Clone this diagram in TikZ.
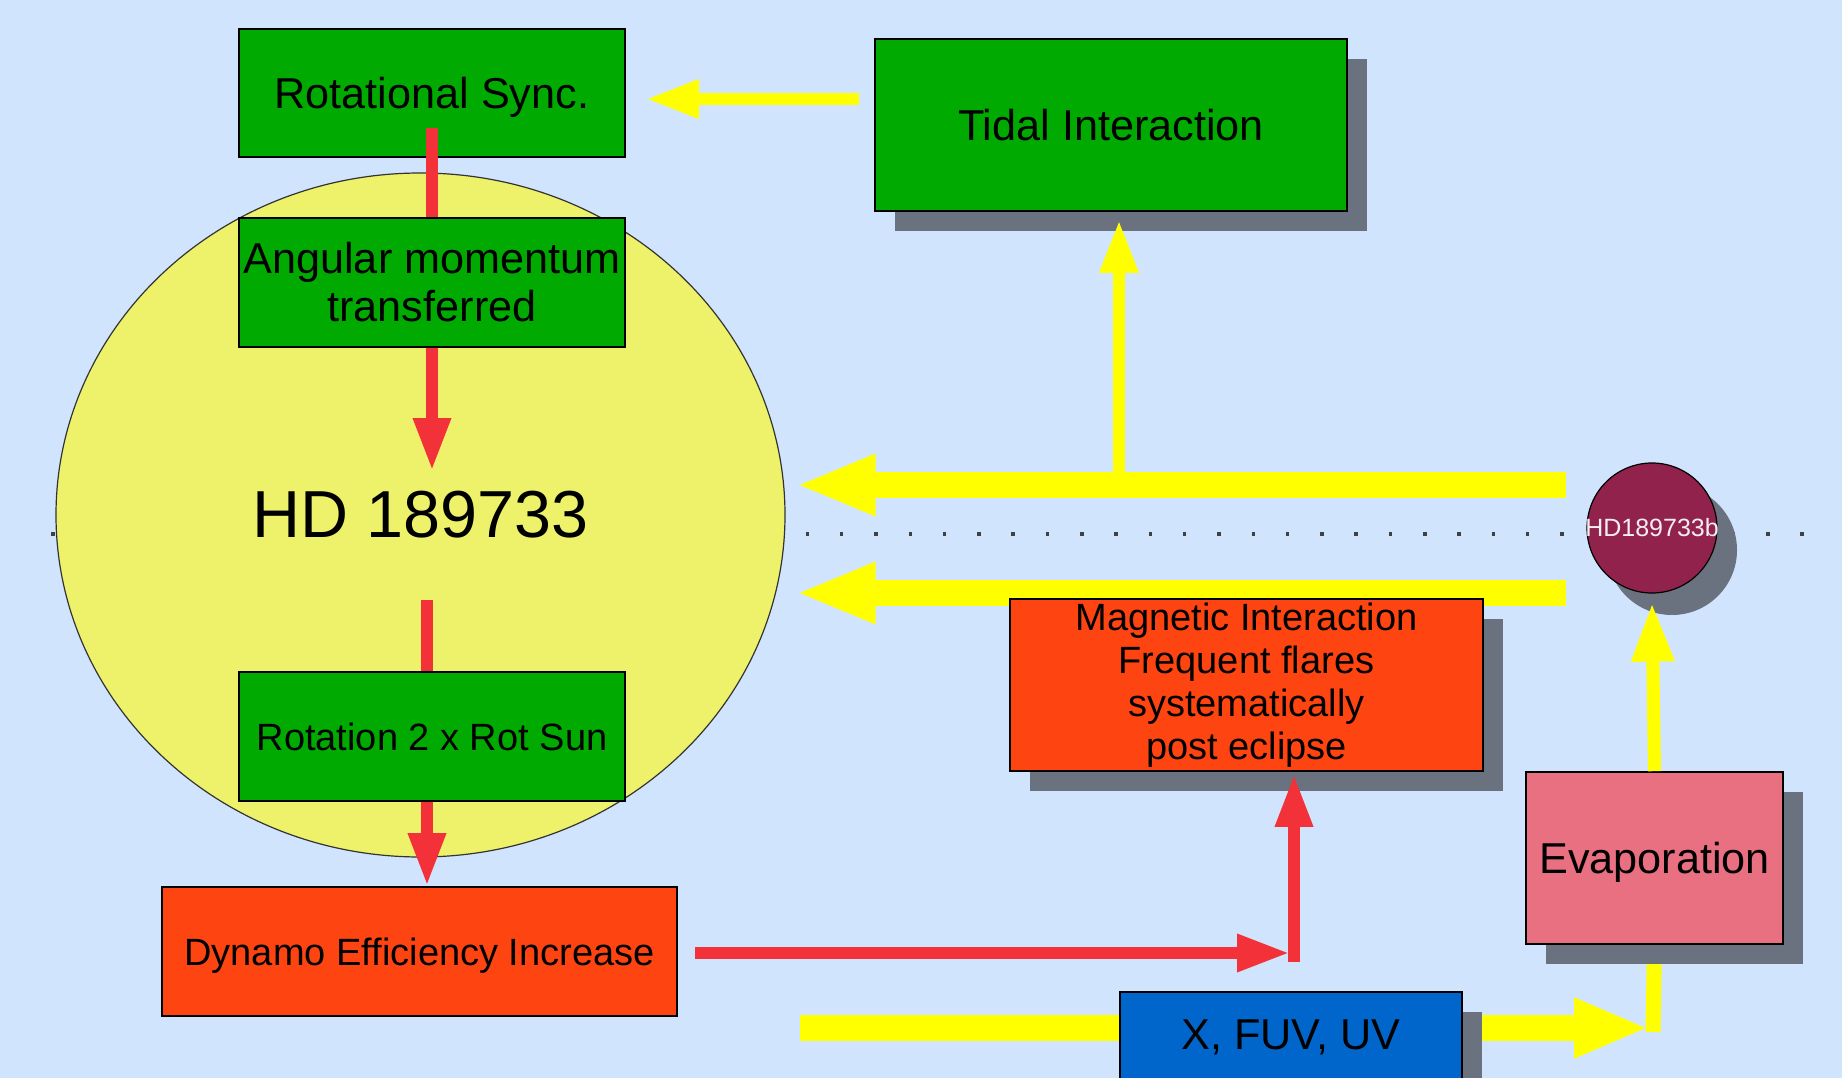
\documentclass[tikz,border=0pt]{standalone}
\usepackage{fontspec}
\setmainfont{Liberation Sans}
\usetikzlibrary{arrows.meta,shapes.geometric,shadows}
\definecolor{bgblue}{RGB}{209,228,253}
\definecolor{boxgreen}{RGB}{0,170,0}
\definecolor{starfill}{RGB}{237,242,106}
\definecolor{flame}{RGB}{254,68,16}
\definecolor{rosy}{RGB}{232,112,128}
\definecolor{uvblue}{RGB}{0,102,204}
\definecolor{planetc}{RGB}{145,34,75}
\definecolor{shadowc}{RGB}{106,114,128}
\definecolor{arrowred}{RGB}{242,50,56}
\definecolor{beam}{RGB}{255,255,0}
\pgfdeclarelayer{back}
\pgfdeclarelayer{under}
\pgfsetlayers{back,under,main}
\begin{document}
\begin{tikzpicture}[x=1pt,y=-1pt,
  box/.style={draw=black, line width=1.6pt, rectangle, inner sep=0pt, align=center, text=black},
  shadowed/.style={drop shadow={shadow xshift=20pt, shadow yshift=-20pt, fill=shadowc, opacity=1}},
  f42/.style={font=\fontsize{43.2}{48}\selectfont},
  f37/.style={font=\fontsize{38}{43}\selectfont},
  redline/.style={draw=arrowred, line width=12pt},
  redarrow/.style={redline, -{Triangle[width=35pt,length=53pt]}},
  ythin/.style={draw=beam, line width=12pt},
  yarrow/.style={ythin, -{Triangle[width=36pt,length=53pt]}},
  ybar/.style={draw=beam, line width=26pt},
  ybig/.style={ybar, -{Triangle[width=56pt,length=80pt]}},
]
\useasboundingbox (0,0) rectangle (1842,1078);
\begin{pgfonlayer}{back}
  \fill[bgblue] (0,0) rectangle (1842,1078);
\end{pgfonlayer}
\clip (0,0) rectangle (1842,1078);

% orbital plane
\coordinate (dl) at (51,534);
\coordinate (dr) at (1812,534);
\begin{pgfonlayer}{under}
  \draw[black!75, line width=3.5pt, dash pattern=on 3.5pt off 30.8pt] (dl) -- (dr);
\end{pgfonlayer}

% the star
\node[ellipse, draw=black!80, line width=1.2pt, fill=starfill, minimum width=729pt,
      minimum height=684pt, inner sep=0pt, font=\fontsize{66.5}{70}\selectfont]
      (star) at (420.5,515) {HD 189733};

% the planet
\node[circle, draw=black, line width=1.2pt, fill=planetc, minimum size=130pt, inner sep=0pt,
      drop shadow={shadow xshift=20pt, shadow yshift=-22pt, fill=shadowc, opacity=1},
      label={[text=white!92!planetc, font=\fontsize{25}{27}\selectfont, inner sep=0pt]center:HD189733b}]
      (pl) at (1652,528) {};

% boxes
\node[box, f42, fill=boxgreen, text depth=0pt, minimum width=386pt, minimum height=128pt] (rs) at (432,93) {Rotational Sync.};
\node[box, f42, fill=boxgreen, minimum width=386pt, minimum height=129pt] (am) at (432,282.5) {Angular momentum\\transferred};
\node[box, f37, fill=boxgreen, minimum width=386pt, minimum height=129pt] (rot) at (432,736.5) {Rotation 2 x Rot Sun};
\node[box, f37, fill=flame, text depth=0pt, minimum width=515pt, minimum height=129pt] (dyn) at (419.5,951.5) {Dynamo Efficiency Increase};
\node[box, f42, fill=boxgreen, shadowed, minimum width=472pt, minimum height=172pt] (tid) at (1111,125) {Tidal Interaction};
\node[box, f37, fill=flame, shadowed, minimum width=473pt, minimum height=172pt] (mag) at (1246.5,685) {Magnetic Interaction\\Frequent flares\\systematically\\post eclipse};
\node[box, f42, fill=rosy, shadowed, text depth=0pt, minimum width=257pt, minimum height=172pt] (eva) at (1654.5,858) {Evaporation};
\node[box, f42, fill=uvblue, shadowed, minimum width=342pt, minimum height=90pt] (xuv) at (1291,1037) {X, FUV, UV};

% spin chain inside the star
\coordinate (hdin) at (432,471);
\coordinate (hdout) at (427,600);
\draw[redline] ([yshift=-35pt]rs.center) -- (am.north);
\draw[redarrow] (am.south) -- (hdin);
\draw[redline] (hdout) -- (hdout |- rot.north);
\draw[redarrow] (hdout |- rot.south) -- (hdout |- dyn.north);

% tides
\draw[yarrow] ([xshift=-15pt,yshift=26pt]tid.west) -- ([xshift=20pt,yshift=-6pt]rs.east);
\draw[ybig] ([xshift=-20pt,yshift=43pt]pl.west) -- ([xshift=10pt,yshift=30pt]star.east);
\coordinate (tj) at (1119,485);
\draw[yarrow] (tj) -- ([xshift=8pt,yshift=-8pt]tid.south);

% magnetic interaction
\begin{pgfonlayer}{under}
  \draw[ybig] ([xshift=-20pt,yshift=-65pt]pl.west) -- ([xshift=10pt,yshift=-78pt]star.east);
\end{pgfonlayer}
\coordinate (bend) at (1294,953);
\draw[redarrow] ([xshift=17pt,yshift=-1.5pt]dyn.east) -- ([xshift=-4pt]bend);
\draw[redarrow, shorten >=2pt] ([yshift=-9pt]bend) -- (mag.south -| bend);

% high-energy flux and evaporation
\coordinate (xs) at (800,1028);
\coordinate (xj) at (1653,1028);
\begin{pgfonlayer}{under}
  \draw[ybar, -{Triangle[width=55pt,length=75pt]}] (xs) -- ([xshift=-4pt]xj);
  \draw[beam, line width=15pt] (eva.south) -- ([yshift=-4pt]xj);
\end{pgfonlayer}
\draw[beam, line width=13pt, -{Triangle[width=40pt,length=59pt]}] (eva.north) -- ([yshift=-9pt]pl.south);
\end{tikzpicture}
\end{document}
